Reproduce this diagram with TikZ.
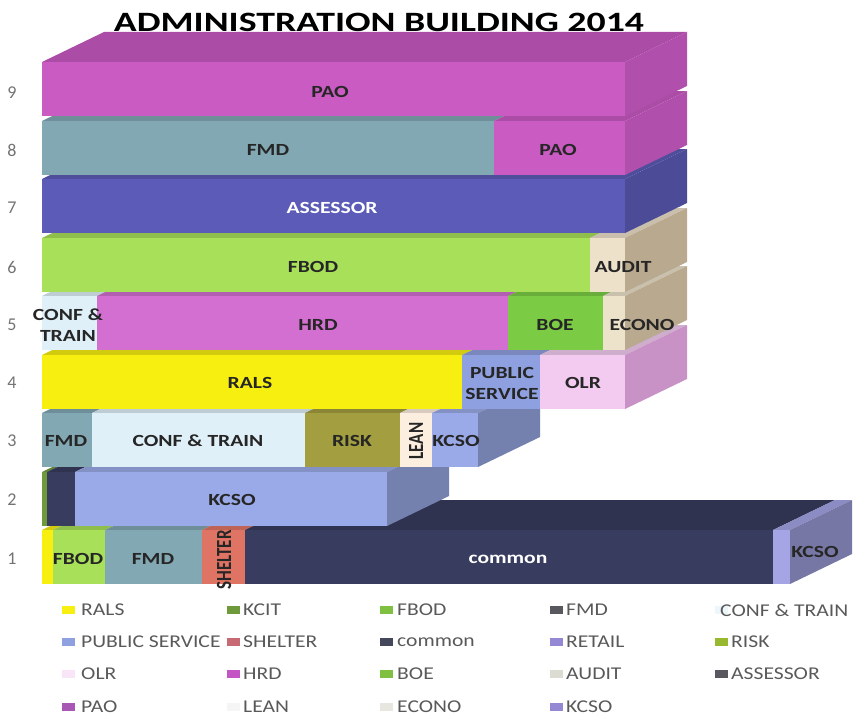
\documentclass[tikz,border=0pt]{standalone}
\usepackage{fontspec}
\setmainfont{Carlito}
\usepackage{graphicx}

\definecolor{cPAO}{HTML}{C95BC3}
\definecolor{cFMD}{HTML}{82A8B4}
\definecolor{cASSESSOR}{HTML}{5C5CB8}
\definecolor{cFBOD}{HTML}{A8E05A}
\definecolor{cAUDIT}{HTML}{EDE1CA}
\definecolor{cTAN}{HTML}{B9A98E}
\definecolor{cCONF}{HTML}{E0F0F8}
\definecolor{cHRD}{HTML}{D26FD0}
\definecolor{cBOE}{HTML}{7CCB45}
\definecolor{cECONO}{HTML}{EDE3CB}
\definecolor{cRALS}{HTML}{F7EF10}
\definecolor{cPUBSERV}{HTML}{8FA0E0}
\definecolor{cOLR}{HTML}{F3CBF0}
\definecolor{cOLRside}{HTML}{C892C6}
\definecolor{cRISK}{HTML}{A39E3F}
\definecolor{cLEAN}{HTML}{FCEFE0}
\definecolor{cKCSO}{HTML}{9AAAE8}
\definecolor{cKCSOb}{HTML}{A5A5E6}
\definecolor{cKCIT}{HTML}{6E9A3C}
\definecolor{cCOMMON}{HTML}{383C5E}
\definecolor{cSHELTER}{HTML}{E07464}
% legend swatches
\definecolor{lgFBOD}{HTML}{80C040}
\definecolor{lgFMD}{HTML}{58585E}
\definecolor{lgSHELTER}{HTML}{C86A74}
\definecolor{lgCOMMON}{HTML}{45475A}
\definecolor{lgRETAIL}{HTML}{9488D4}
\definecolor{lgRISK}{HTML}{98B830}
\definecolor{lgHRD}{HTML}{C455C4}
\definecolor{lgAUDIT}{HTML}{DCDCD2}
\definecolor{lgPAO}{HTML}{A858B4}

\newcommand{\stretchtxt}[2][1.27]{\scalebox{#1}[1]{#2}}
% one piece of a floor: x1, x2, top, colour
\newcommand{\piece}[4]{%
  \fill[#4!85!black] (#1,#3) -- (#2,#3) -- ({#2+62},{#3-30}) -- ({#1+62},{#3-30}) -- cycle;
  \fill[#4] (#1,#3) rectangle (#2,{#3+54});}
% right end of a floor: x, top, colour
\newcommand{\floorend}[3]{%
  \fill[#3] (#1,#2) -- ({#1+62},{#2-30}) -- ({#1+62},{#2+24}) -- (#1,{#2+54}) -- cycle;}

\begin{document}
\begin{tikzpicture}[x=1pt,y=-1pt,
  lbl/.style={inner sep=0pt,text=black!85,font=\bfseries\fontsize{17}{21}\selectfont},
  flr/.style={inner sep=0pt,text=black!55,font=\fontsize{18}{18}\selectfont},
  legtxt/.style={anchor=west,inner sep=0pt,text=black!65,font=\fontsize{18}{18}\selectfont}]
\useasboundingbox (0,0) rectangle (858,717);

\node[inner sep=0pt,font=\bfseries\fontsize{28}{28}\selectfont] (title) at (379,22) {\stretchtxt[1.35]{ADMINISTRATION BUILDING 2014}};

% floor 1
\piece{42}{53}{530}{cRALS}
\piece{53}{105}{530}{cFBOD}
\piece{105}{202}{530}{cFMD}
\piece{202}{245}{530}{cSHELTER}
\piece{245}{773}{530}{cCOMMON}
\piece{773}{790}{530}{cKCSOb}
\floorend{790}{530}{cKCSOb!72!black}
% floor 2
\piece{42}{47}{472}{cKCIT}
\piece{47}{75}{472}{cCOMMON}
\piece{75}{387}{472}{cKCSO}
\floorend{387}{472}{cKCSO!75!black}
% floor 3
\piece{42}{92}{413}{cFMD}
\piece{92}{305}{413}{cCONF}
\piece{305}{400}{413}{cRISK}
\piece{400}{432}{413}{cLEAN}
\piece{432}{478}{413}{cKCSO}
\floorend{478}{413}{cKCSO!75!black}
% floor 4
\piece{42}{462}{355}{cRALS}
\piece{462}{540}{355}{cPUBSERV}
\piece{540}{625}{355}{cOLR}
\floorend{625}{355}{cOLRside}
% floor 5
\piece{42}{97}{296}{cCONF}
\piece{97}{508}{296}{cHRD}
\piece{508}{603}{296}{cBOE}
\piece{603}{625}{296}{cECONO}
\floorend{625}{296}{cTAN}
% floor 6
\piece{42}{590}{238}{cFBOD}
\piece{590}{625}{238}{cAUDIT}
\floorend{625}{238}{cTAN}
% floor 7
\piece{42}{625}{179}{cASSESSOR}
\floorend{625}{179}{cASSESSOR!82!black}
% floor 8
\piece{42}{494}{121}{cFMD}
\piece{494}{625}{121}{cPAO}
\floorend{625}{121}{cPAO!88!black}
% floor 9
\piece{42}{625}{62}{cPAO}
\floorend{625}{62}{cPAO!88!black}

% room labels
\node[lbl] (pao9) at (330,92) {\stretchtxt{PAO}};
\node[lbl] (fmd8) at (268,150) {\stretchtxt{FMD}};
\node[lbl] (pao8) at (558,150) {\stretchtxt{PAO}};
\node[lbl,text=white] (assessor7) at (332,208) {\stretchtxt{ASSESSOR}};
\node[lbl] (fbod6) at (313,267) {\stretchtxt{FBOD}};
\node[lbl] (audit6) at (623,267) {\stretchtxt{AUDIT}};
\node[lbl,align=center] (conf5) at (68,325) {\stretchtxt{CONF \&}\\\stretchtxt{TRAIN}};
\node[lbl] (hrd5) at (318,325) {\stretchtxt{HRD}};
\node[lbl] (boe5) at (555,325) {\stretchtxt{BOE}};
\node[lbl] (econo5) at (642,325) {\stretchtxt{ECONO}};
\node[lbl] (rals4) at (250,383) {\stretchtxt{RALS}};
\node[lbl,align=center] (pubserv4) at (502,383) {\stretchtxt{PUBLIC}\\\stretchtxt{SERVICE}};
\node[lbl] (olr4) at (583,383) {\stretchtxt{OLR}};
\node[lbl] (fmd3) at (66,441) {\stretchtxt{FMD}};
\node[lbl] (conf3) at (198,441) {\stretchtxt{CONF \& TRAIN}};
\node[lbl] (risk3) at (352,441) {\stretchtxt{RISK}};
\node[lbl,rotate=90] (lean3) at (416,441) {\stretchtxt[1]{\scalebox{1}[1.27]{LEAN}}};
\node[lbl] (kcso3) at (456,441) {\stretchtxt{KCSO}};
\node[lbl] (kcso2) at (232,500) {\stretchtxt{KCSO}};
\node[lbl] (fbod1) at (78,559) {\stretchtxt{FBOD}};
\node[lbl] (fmd1) at (153,559) {\stretchtxt{FMD}};
\node[lbl,rotate=90] (shelter1) at (224,560) {\scalebox{1}[1.27]{SHELTER}};
\node[lbl,text=white] (common1) at (508,559) {\stretchtxt{common}};
\node[lbl] (kcso1) at (815,552) {\stretchtxt{KCSO}};

% floor numbers
\node[flr] (n9) at (12,93) {9};
\node[flr] (n8) at (12,150) {8};
\node[flr] (n7) at (12,208) {7};
\node[flr] (n6) at (12,267) {6};
\node[flr] (n5) at (12,325) {5};
\node[flr] (n4) at (12,383) {4};
\node[flr] (n3) at (12,441) {3};
\node[flr] (n2) at (12,500) {2};
\node[flr] (n1) at (12,559) {1};

% legend
\fill[cRALS] (62,606) rectangle (75,614);
\node[legtxt] (lgrals) at (81,610) {\stretchtxt[1.2]{RALS}};
\fill[cKCIT] (227,606) rectangle (240,614);
\node[legtxt] (lgkcit) at (243,610) {\stretchtxt[1.2]{KCIT}};
\fill[lgFBOD] (380,606) rectangle (393,614);
\node[legtxt] (lgfbod) at (397,610) {\stretchtxt[1.2]{FBOD}};
\fill[lgFMD] (550,606) rectangle (563,614);
\node[legtxt] (lgfmd) at (566,610) {\stretchtxt[1.2]{FMD}};
\fill[cCONF!60] (715,606) rectangle (728,614);
\node[legtxt] (lgconf) at (720,610) {\stretchtxt[1.2]{CONF \& TRAIN}};
\fill[cPUBSERV] (62,638) rectangle (75,646);
\node[legtxt] (lgpubserv) at (81,642) {\stretchtxt[1.2]{PUBLIC SERVICE}};
\fill[lgSHELTER] (227,638) rectangle (240,646);
\node[legtxt] (lgshelter) at (243,642) {\stretchtxt[1.2]{SHELTER}};
\fill[lgCOMMON] (380,638) rectangle (393,646);
\node[legtxt] (lgcommon) at (397,642) {\stretchtxt[1.2]{common}};
\fill[lgRETAIL] (550,638) rectangle (563,646);
\node[legtxt] (lgretail) at (566,642) {\stretchtxt[1.2]{RETAIL}};
\fill[lgRISK] (715,638) rectangle (728,646);
\node[legtxt] (lgrisk) at (731,642) {\stretchtxt[1.2]{RISK}};
\fill[cOLR!50] (62,670) rectangle (75,678);
\node[legtxt] (lgolr) at (81,674) {\stretchtxt[1.2]{OLR}};
\fill[lgHRD] (227,670) rectangle (240,678);
\node[legtxt] (lghrd) at (243,674) {\stretchtxt[1.2]{HRD}};
\fill[lgFBOD] (380,670) rectangle (393,678);
\node[legtxt] (lgboe) at (397,674) {\stretchtxt[1.2]{BOE}};
\fill[lgAUDIT] (550,670) rectangle (563,678);
\node[legtxt] (lgaudit) at (566,674) {\stretchtxt[1.2]{AUDIT}};
\fill[lgFMD] (715,670) rectangle (728,678);
\node[legtxt] (lgassessor) at (731,674) {\stretchtxt[1.2]{ASSESSOR}};
\fill[lgPAO] (62,703) rectangle (75,711);
\node[legtxt] (lgpao) at (81,707) {\stretchtxt[1.2]{PAO}};
\fill[black!4] (227,703) rectangle (240,711);
\node[legtxt] (lglean) at (243,707) {\stretchtxt[1.2]{LEAN}};
\fill[lgAUDIT!70] (380,703) rectangle (393,711);
\node[legtxt] (lgecono) at (397,707) {\stretchtxt[1.2]{ECONO}};
\fill[lgRETAIL] (550,703) rectangle (563,711);
\node[legtxt] (lgkcso) at (566,707) {\stretchtxt[1.2]{KCSO}};
\end{tikzpicture}
\end{document}
